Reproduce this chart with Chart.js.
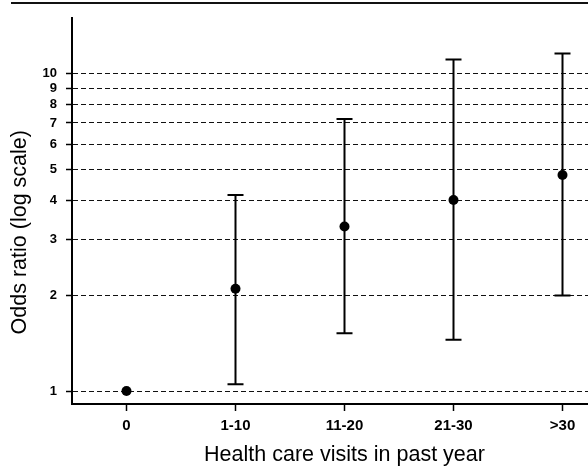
<!DOCTYPE html>
<html>
<head>
<meta charset="utf-8">
<script src="https://cdn.jsdelivr.net/npm/chart.js@4"></script>
<style>
  html, body { margin: 0; padding: 0; background: #fff; overflow: hidden; width: 588px; height: 468px; }
  #wrap { position: absolute; left: 0; top: 0; width: 622px; height: 468px; }
  #rule { position: absolute; left: 11px; top: 2px; width: 577px; height: 2px; background: #111; }
</style>
</head>
<body>
<div id="rule"></div>
<div id="wrap"><canvas id="c" width="622" height="468"></canvas></div>
<script>
const categories = ['0', '1-10', '11-20', '21-30', '>30'];
const oddsRatio = [1.0, 2.1, 3.3, 4.0, 4.8];
const ciLower = [null, 1.05, 1.52, 1.45, 2.0];
const ciUpper = [null, 4.15, 7.2, 11.1, 11.6];
const yTickValues = [1, 2, 3, 4, 5, 6, 7, 8, 9, 10];
const xTitle = 'Health care visits in past year';
const yTitle = 'Odds ratio (log scale)';

const FONT = "'Liberation Sans', Arial, Helvetica, sans-serif";

const errorBars = {
  id: 'errorBars',
  beforeDatasetsDraw(chart) {
    const ctx = chart.ctx;
    const xs = chart.scales.x, ys = chart.scales.y;
    ctx.save();
    ctx.strokeStyle = '#000';
    ctx.lineWidth = 2;
    for (let i = 0; i < categories.length; i++) {
      if (ciLower[i] == null || ciUpper[i] == null) continue;
      const x = xs.getPixelForValue(i);
      const yl = ys.getPixelForValue(ciLower[i]);
      const yu = ys.getPixelForValue(ciUpper[i]);
      ctx.beginPath();
      ctx.moveTo(x, yl); ctx.lineTo(x, yu);
      ctx.moveTo(x - 8, yl); ctx.lineTo(x + 8, yl);
      ctx.moveTo(x - 8, yu); ctx.lineTo(x + 8, yu);
      ctx.stroke();
    }
    ctx.restore();
  }
};

const yTitlePlugin = {
  id: 'yTitlePlugin',
  afterDraw(chart) {
    const ctx = chart.ctx;
    const a = chart.chartArea;
    ctx.save();
    ctx.font = '21.5px ' + FONT;
    ctx.fillStyle = '#000';
    ctx.textAlign = 'center';
    ctx.textBaseline = 'middle';
    ctx.translate(20, a.top + (a.bottom - a.top) * 0.555);
    ctx.rotate(-Math.PI / 2);
    ctx.fillText(yTitle, 0, 0);
    ctx.restore();
  }
};

new Chart(document.getElementById('c'), {
  type: 'line',
  data: {
    labels: categories,
    datasets: [{
      data: oddsRatio,
      showLine: false,
      pointRadius: 5,
      pointHoverRadius: 5,
      pointBackgroundColor: '#000',
      pointBorderColor: '#000',
      pointBorderWidth: 0
    }]
  },
  options: {
    responsive: false,
    animation: false,
    events: [],
    layout: { padding: { top: 18, left: 0, right: 0, bottom: 0 } },
    plugins: { legend: { display: false }, tooltip: { enabled: false } },
    scales: {
      x: {
        type: 'category',
        offset: true,
        afterFit(s) { s.height = 64; },
        border: { display: true, color: '#000', width: 2 },
        grid: { drawOnChartArea: false, drawTicks: true, tickLength: 7, tickColor: '#000', tickWidth: 1.5, offset: false },
        ticks: { color: '#000', font: { family: FONT, size: 15, weight: 'bold' }, padding: 6, maxRotation: 0 },
        title: { display: true, text: xTitle, color: '#000', font: { family: FONT, size: 21.5 }, padding: { top: 3, bottom: 0 } }
      },
      y: {
        type: 'logarithmic',
        min: 0.91,
        max: 15,
        afterFit(s) { s.width = 72; },
        afterBuildTicks(s) { s.ticks = yTickValues.map(v => ({ value: v })); },
        border: { display: true, color: '#000', width: 2, dash: [5, 3] },
        grid: { color: '#111', lineWidth: 1, drawTicks: true, tickLength: 6, tickColor: '#000', tickWidth: 1.5, tickBorderDash: [] },
        ticks: { color: '#000', font: { family: FONT, size: 13, weight: 'bold' }, padding: 9, callback: v => String(v), autoSkip: false }
      }
    }
  },
  plugins: [errorBars, yTitlePlugin]
});
</script>
</body>
</html>
